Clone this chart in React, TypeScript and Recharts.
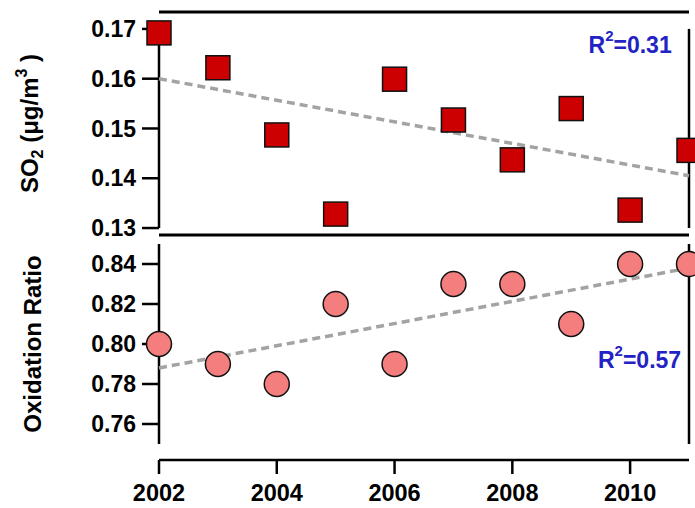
import { ScatterChart, Scatter, XAxis, YAxis, ReferenceLine, ReferenceDot } from 'recharts'

const years = [2002, 2003, 2004, 2005, 2006, 2007, 2008, 2009, 2010, 2011]
const so2 = [0.1692, 0.1622, 0.1487, 0.1328, 0.1599, 0.1517, 0.1437, 0.154, 0.1336, 0.1456]
const ratio = [0.8, 0.79, 0.78, 0.82, 0.79, 0.83, 0.83, 0.81, 0.84, 0.84]

// fitted trend end points (first year, last year)
const so2Trend = [0.16, 0.1405]
const ratioTrend = [0.788, 0.838]

const so2Ticks = [0.13, 0.14, 0.15, 0.16, 0.17]
const ratioTicks = [0.76, 0.78, 0.8, 0.82, 0.84]
const yearTicks = [2002, 2004, 2006, 2008, 2010]

const so2R2 = '0.31'
const ratioR2 = '0.57'

const FONT = 'Arial, "Liberation Sans", sans-serif'
const AXIS = { stroke: '#000', strokeWidth: 2.5 }
const YTICK = { fill: '#000', fontSize: 23, fontWeight: 'bold', fontFamily: FONT }
const XTICK = { fill: '#000', fontSize: 23.5, fontWeight: 'bold', fontFamily: FONT }
const BLUE = '#2323c4'

const so2Data = years.map((year, i) => ({ year, value: so2[i] }))
const ratioData = years.map((year, i) => ({ year, value: ratio[i] }))
const firstYear = years[0]
const lastYear = years[years.length - 1]

const Square = (props: any) => (
  <rect x={props.cx - 12} y={props.cy - 12} width={24} height={24} fill="#cc0000" stroke="#111" strokeWidth={1.5} />
)

const Dot = (props: any) => (
  <circle cx={props.cx} cy={props.cy} r={12.5} fill="#f47e7e" stroke="#111" strokeWidth={1.5} />
)

// R^2 annotation, drawn at a reference dot
const R2Label = ({ viewBox, value }: any) => (
  <text
    x={viewBox.x + viewBox.width / 2}
    y={viewBox.y + viewBox.height / 2}
    textAnchor="middle"
    fill={BLUE}
    fontSize={23}
    fontWeight="bold"
    fontFamily={FONT}
  >
    R<tspan fontSize={15} dy={-12}>2</tspan>
    <tspan dy={12}>={value}</tspan>
  </text>
)

const So2Title = ({ viewBox }: any) => {
  const x = viewBox.x + 38
  const y = viewBox.y + viewBox.height / 2
  return (
    <text x={x} y={y} transform={`rotate(-90, ${x}, ${y})`} textAnchor="middle" fill="#000" fontSize={24} fontWeight="bold" fontFamily={FONT}>
      SO<tspan fontSize={16} dy={5}>2</tspan>
      <tspan dy={-5}> (μg/m</tspan>
      <tspan fontSize={16} dy={-11}>3</tspan>
      <tspan dy={11}> )</tspan>
    </text>
  )
}

const RatioTitle = ({ viewBox }: any) => {
  const x = viewBox.x + 41
  const y = viewBox.y + viewBox.height / 2 - 8
  return (
    <text x={x} y={y} transform={`rotate(-90, ${x}, ${y})`} textAnchor="middle" fill="#000" fontSize={24} fontWeight="bold" fontFamily={FONT}>
      Oxidation Ratio
    </text>
  )
}

export default function App() {
  return (
    <div style={{ position: 'absolute', left: 0, top: 0, width: 695, height: 508, background: '#fff' }}>
      <ScatterChart width={695} height={240} margin={{ top: 11, right: 6, bottom: 4, left: 0 }}>
        <XAxis xAxisId="b" type="number" dataKey="year" domain={[2002, 2011]} orientation="bottom" height={1} tick={false} tickLine={false} axisLine={{ stroke: '#000', strokeWidth: 3 }} />
        <XAxis xAxisId="t" type="number" dataKey="year" domain={[2002, 2011]} orientation="top" height={1} tick={false} tickLine={false} axisLine={{ stroke: '#000', strokeWidth: 3 }} />
        <YAxis
          type="number"
          dataKey="value"
          domain={[0.1286, 0.1734]}
          ticks={so2Ticks}
          interval={0}
          width={159}
          tickSize={17}
          tickMargin={6}
          axisLine={false}
          tickLine={AXIS}
          tick={YTICK}
          tickFormatter={(v: number) => v.toFixed(2)}
          label={<So2Title />}
        />
        <ReferenceLine xAxisId="b" segment={[{ x: firstYear, y: so2Ticks[0] }, { x: firstYear, y: so2Ticks[so2Ticks.length - 1] }]} {...AXIS} />
        <ReferenceLine xAxisId="b" segment={[{ x: lastYear, y: so2Ticks[0] }, { x: lastYear, y: so2Ticks[so2Ticks.length - 1] }]} {...AXIS} />
        <Scatter xAxisId="b" data={so2Data} shape={<Square />} isAnimationActive={false} />
        <ReferenceLine
          xAxisId="b"
          segment={[{ x: firstYear, y: so2Trend[0] }, { x: lastYear, y: so2Trend[1] }]}
          stroke="#a3a3a3"
          strokeWidth={3.5}
          strokeDasharray="8 5"
        />
        <ReferenceDot xAxisId="b" x={2010} y={0.1652} r={0} stroke="none" label={<R2Label value={so2R2} />} />
      </ScatterChart>

      <ScatterChart width={695} height={268} margin={{ top: 4, right: 6, bottom: 0, left: 0 }}>
        <XAxis
          type="number"
          dataKey="year"
          domain={[2002, 2011]}
          ticks={yearTicks}
          interval={0}
          height={48}
          tickSize={14}
          tickMargin={10}
          axisLine={AXIS}
          tickLine={AXIS}
          tick={XTICK}
        />
        <YAxis
          type="number"
          dataKey="value"
          domain={[0.742, 0.85]}
          ticks={ratioTicks}
          interval={0}
          width={159}
          tickSize={17}
          tickMargin={6}
          axisLine={false}
          tickLine={AXIS}
          tick={YTICK}
          tickFormatter={(v: number) => v.toFixed(2)}
          label={<RatioTitle />}
        />
        <ReferenceLine segment={[{ x: firstYear, y: 0.75 }, { x: firstYear, y: 0.85 }]} {...AXIS} />
        <ReferenceLine segment={[{ x: lastYear, y: 0.75 }, { x: lastYear, y: 0.85 }]} {...AXIS} />
        <Scatter data={ratioData} shape={<Dot />} isAnimationActive={false} />
        <ReferenceLine
          segment={[{ x: firstYear, y: ratioTrend[0] }, { x: lastYear, y: ratioTrend[1] }]}
          stroke="#a3a3a3"
          strokeWidth={3.5}
          strokeDasharray="8 5"
        />
        <ReferenceDot x={2010.16} y={0.788} r={0} stroke="none" label={<R2Label value={ratioR2} />} />
      </ScatterChart>
    </div>
  )
}
